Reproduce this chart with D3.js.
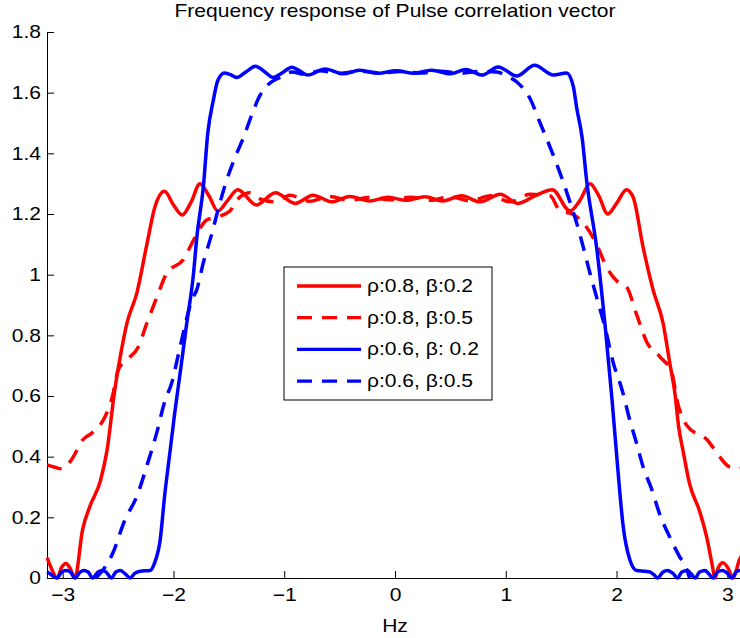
<!DOCTYPE html>
<html>
<head>
<meta charset="utf-8">
<script src="https://cdn.jsdelivr.net/npm/d3@7"></script>
<style>
  body { margin: 0; background: #fff; }
  text { font-family: "Liberation Sans", Arial, sans-serif; }
</style>
</head>
<body>
<div id="chart"></div>
<script>
// values, [frequency (rad), magnitude]
const rho08beta02 = [
  [-3.14, .066], [-3.10, .03], [-3.05, 0], [-3.01, .035], [-2.97, .048], [-2.93, .03], [-2.89, 0],
  [-2.82, .16], [-2.75, .24], [-2.66, .32], [-2.60, .42], [-2.53, .62], [-2.48, .73], [-2.42, .84],
  [-2.33, .94], [-2.24, 1.10], [-2.17, 1.22], [-2.08, 1.275], [-2.00, 1.23], [-1.92, 1.197],
  [-1.84, 1.24], [-1.76, 1.30], [-1.68, 1.26], [-1.60, 1.21], [-1.51, 1.245], [-1.42, 1.28],
  [-1.25, 1.23], [-1.08, 1.27], [-0.90, 1.235], [-0.74, 1.262], [-0.57, 1.24], [-0.41, 1.258],
  [-0.23, 1.243], [-0.06, 1.255], [0.10, 1.245], [0.27, 1.257], [0.43, 1.243], [0.60, 1.26],
  [0.77, 1.24], [0.95, 1.265], [1.11, 1.235], [1.29, 1.265], [1.42, 1.28], [1.58, 1.21],
  [1.67, 1.245], [1.76, 1.30], [1.84, 1.26], [1.92, 1.20], [2.00, 1.235], [2.09, 1.28],
  [2.15, 1.255], [2.24, 1.09], [2.33, .95], [2.42, .84], [2.48, .71], [2.53, .60], [2.56, .50],
  [2.60, .42], [2.66, .31], [2.75, .22], [2.82, .125], [2.86, .05], [2.89, 0], [2.92, .035],
  [2.96, .05], [3.01, .03], [3.05, 0], [3.11, .06], [3.14, .08]
];

const rho08beta05 = [
  [-3.14, .373], [-3.07, .365], [-3.01, .36], [-2.92, .39], [-2.82, .455], [-2.73, .48],
  [-2.62, .53], [-2.55, .60], [-2.50, .685], [-2.42, .72], [-2.32, .76], [-2.24, .84],
  [-2.15, .926], [-2.06, 1.005], [-1.91, 1.05], [-1.81, 1.12], [-1.70, 1.18], [-1.61, 1.19],
  [-1.49, 1.21], [-1.43, 1.245], [-1.31, 1.27], [-1.22, 1.25], [-1.08, 1.24], [-0.95, 1.262],
  [-0.77, 1.242], [-0.59, 1.258], [-0.41, 1.245], [-0.23, 1.255], [-0.05, 1.247], [0.14, 1.255],
  [0.32, 1.245], [0.50, 1.257], [0.68, 1.243], [0.86, 1.26], [1.04, 1.24], [1.22, 1.265],
  [1.40, 1.26], [1.49, 1.21], [1.60, 1.20], [1.70, 1.17], [1.82, 1.10], [1.91, 1.025],
  [2.00, .98], [2.09, .96], [2.18, .87], [2.27, .78], [2.39, .73], [2.50, .675], [2.55, .58],
  [2.64, .50], [2.82, .455], [2.93, .40], [3.02, .366], [3.11, .36], [3.14, .37]
];

const rho06beta02 = [
  [-3.14, .02], [-3.10, .01], [-3.05, 0], [-3.01, .02], [-2.97, .025], [-2.93, .02], [-2.89, 0],
  [-2.84, .02], [-2.81, .025], [-2.77, .02], [-2.73, 0], [-2.68, .02], [-2.64, .025], [-2.61, .02],
  [-2.56, 0], [-2.52, .02], [-2.48, .025], [-2.44, .015], [-2.39, 0], [-2.35, .015], [-2.30, .022],
  [-2.21, .025], [-2.17, .05], [-2.12, .125], [-2.08, .27], [-2.03, .42], [-1.99, .54],
  [-1.94, .675], [-1.88, .84], [-1.82, 1.00], [-1.79, 1.12], [-1.73, 1.29], [-1.69, 1.467],
  [-1.64, 1.575], [-1.60, 1.64], [-1.54, 1.665], [-1.49, 1.66], [-1.43, 1.65], [-1.34, 1.67],
  [-1.26, 1.687], [-1.18, 1.67], [-1.10, 1.65], [-1.02, 1.665], [-0.93, 1.684], [-0.86, 1.672],
  [-0.79, 1.658], [-0.63, 1.678], [-0.47, 1.662], [-0.32, 1.674], [-0.15, 1.664], [0.01, 1.672],
  [0.17, 1.664], [0.33, 1.674], [0.50, 1.662], [0.64, 1.676], [0.79, 1.658], [0.93, 1.685],
  [1.10, 1.655], [1.26, 1.69], [1.43, 1.658], [1.55, 1.665], [1.61, 1.62], [1.64, 1.55],
  [1.69, 1.45], [1.73, 1.31], [1.82, 1.09], [1.90, .82], [1.96, .585], [2.01, .366],
  [2.06, .17], [2.12, .06], [2.18, .025], [2.26, .022], [2.30, .02], [2.34, .01], [2.37, 0],
  [2.42, .02], [2.46, .025], [2.51, .015], [2.55, 0], [2.59, .02], [2.64, .025], [2.67, .015],
  [2.71, 0], [2.75, .02], [2.80, .025], [2.83, .015], [2.87, 0], [2.91, .02], [2.96, .025],
  [3.00, .015], [3.04, 0], [3.08, .02], [3.11, .025], [3.14, .02]
];

const rho06beta05 = [
  [-2.70, 0], [-2.61, .04], [-2.55, .08], [-2.44, .19], [-2.33, .27], [-2.24, .37], [-2.15, .48],
  [-2.08, .58], [-2.01, .65], [-1.96, .73], [-1.91, .81], [-1.83, .92], [-1.79, .95], [-1.73, 1.04],
  [-1.65, 1.14], [-1.60, 1.21], [-1.53, 1.30], [-1.44, 1.39], [-1.37, 1.45], [-1.29, 1.53],
  [-1.22, 1.59], [-1.15, 1.625], [-1.04, 1.65], [-0.93, 1.668], [-0.81, 1.66], [-0.68, 1.672],
  [-0.50, 1.664], [-0.32, 1.671], [-0.14, 1.665], [0.05, 1.67], [0.23, 1.665], [0.41, 1.671],
  [0.59, 1.664], [0.77, 1.67], [0.92, 1.668], [1.01, 1.655], [1.10, 1.635], [1.22, 1.58],
  [1.31, 1.50], [1.40, 1.42], [1.49, 1.335], [1.57, 1.25], [1.64, 1.17], [1.70, 1.09],
  [1.76, 1.005], [1.82, .926], [1.90, .82], [1.97, .71], [2.05, .62], [2.12, .52], [2.18, .445],
  [2.24, .366], [2.32, .29], [2.39, .21], [2.48, .135], [2.57, .07], [2.62, .04], [2.66, 0]
];

const seriesNames = ['ρ:0.8, β:0.2', 'ρ:0.8, β:0.5', 'ρ:0.6, β: 0.2', 'ρ:0.6, β:0.5'];
const seriesColors = ['#ff0000', '#ff0000', '#0000ff', '#0000ff'];
const seriesDashed = [false, true, false, true];
const xTicks = [-3, -2, -1, 0, 1, 2, 3];
const yTicks = [0, 0.2, 0.4, 0.6, 0.8, 1, 1.2, 1.4, 1.6, 1.8];

const W = 740, H = 638;
const sx = 1.17; // picture text is stretched sideways
const fs = '18px';

const svg = d3.select('#chart').append('svg')
  .attr('width', W)
  .attr('height', H);

const x = d3.scaleLinear().domain([-Math.PI, Math.PI]).range([47, 743]);
const y = d3.scaleLinear().domain([0, 1.8]).range([578, 32]);

// axes, ticks pointing in
const xAxis = svg.append('g')
  .attr('transform', `translate(0,${y(0)})`)
  .call(d3.axisBottom(x).tickValues(xTicks).tickSizeInner(-7).tickSizeOuter(0).tickPadding(10)
    .tickFormat(d => d < 0 ? '\u2212' + Math.abs(d) : d));
const yAxis = svg.append('g')
  .attr('transform', `translate(${x(-Math.PI)},0)`)
  .call(d3.axisLeft(y).tickValues(yTicks).tickSizeInner(-7).tickSizeOuter(0).tickPadding(6 / sx)
    .tickFormat(d3.format('~g')));

[xAxis, yAxis].forEach(g => {
  g.select('.domain').attr('stroke', '#000').attr('stroke-width', 1);
  g.selectAll('.tick line').attr('stroke', '#000');
  g.selectAll('.tick text')
    .attr('fill', '#000')
    .style('font-size', fs)
    .attr('transform', `scale(${sx},1)`);
});

// curves
const line = d3.line()
  .x(d => x(d[0]))
  .y(d => y(d[1]))
  .curve(d3.curveMonotoneX);

const allSeries = [rho08beta02, rho08beta05, rho06beta02, rho06beta05];

svg.append('g')
  .selectAll('path')
  .data(allSeries)
  .join('path')
    .attr('d', line)
    .attr('fill', 'none')
    .attr('stroke', (_, i) => seriesColors[i])
    .attr('stroke-width', 3.5)
    .attr('stroke-linejoin', 'round')
    .attr('stroke-dasharray', (_, i) => seriesDashed[i] ? '15,10' : null);

// title and x label
svg.append('text')
  .attr('transform', `translate(${x(0)},17) scale(${sx},1)`)
  .attr('text-anchor', 'middle')
  .style('font-size', fs)
  .text('Frequency response of Pulse correlation vector');

svg.append('text')
  .attr('transform', `translate(${x(0)},632) scale(${sx},1)`)
  .attr('text-anchor', 'middle')
  .style('font-size', fs)
  .text('Hz');

// legend
const legend = svg.append('g').attr('transform', 'translate(284,267)');
legend.append('rect')
  .attr('width', 208)
  .attr('height', 133)
  .attr('fill', '#fff')
  .attr('stroke', '#000')
  .attr('stroke-width', 1);

const rows = legend.selectAll('g.row')
  .data(seriesNames)
  .join('g')
    .attr('class', 'row')
    .attr('transform', (_, i) => `translate(0,${19 + i * 31.7})`);

rows.append('line')
  .attr('x1', 13).attr('x2', 77)
  .attr('stroke', (_, i) => seriesColors[i])
  .attr('stroke-width', 3.3)
  .attr('stroke-dasharray', (_, i) => seriesDashed[i] ? '15,10' : null);

rows.append('text')
  .attr('transform', `translate(83,6) scale(${sx},1)`)
  .style('font-size', fs)
  .text(d => d);
</script>
</body>
</html>
